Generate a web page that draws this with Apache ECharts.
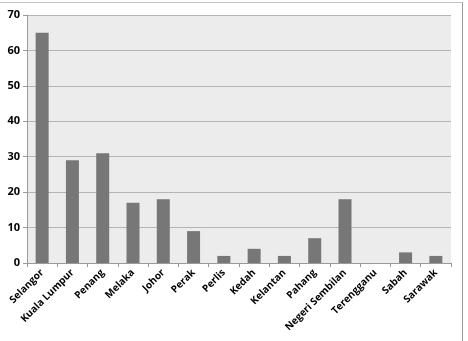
<!DOCTYPE html>
<html>
<head>
<meta charset="utf-8">
<script src="https://cdn.jsdelivr.net/npm/echarts@6/dist/echarts.min.js"></script>
<style>
  html, body { margin: 0; padding: 0; background: #fff; }
  #frame { position: absolute; left: 0; top: 2px; width: 462px; height: 345px;
           border-top: 1px solid #c4c4c4; border-right: 1px solid #9a9a9a; }
  #chart { position: absolute; left: 0; top: 0; width: 468px; height: 341px; }
</style>
</head>
<body>
<div id="frame"></div>
<div id="chart"></div>
<script>
const states = ['Selangor', 'Kuala Lumpur', 'Penang', 'Melaka', 'Johor', 'Perak', 'Perlis',
  'Kedah', 'Kelantan', 'Pahang', 'Negeri Sembilan', 'Terengganu', 'Sabah', 'Sarawak']
const counts = [65, 29, 31, 17, 18, 9, 2, 4, 2, 7, 18, 0, 3, 2]
const yTicks = [0, 10, 20, 30, 40, 50, 60, 70]

const myChart = echarts.init(document.getElementById('chart'))
const labelFont = '"Open Sans", "DejaVu Sans", sans-serif'

const option = {
  animation: false,
  grid: {
    left: 27,
    right: 17,
    top: 15,
    bottom: 78,
    show: true,
    backgroundColor: '#ececec',
    borderWidth: 0
  },
  xAxis: {
    type: 'category',
    data: states,
    axisLine: { lineStyle: { color: '#9a9a9a', width: 1 } },
    axisTick: { show: true, length: 4, lineStyle: { color: '#9a9a9a' } },
    axisLabel: {
      rotate: 45,
      interval: 0,
      margin: 8,
      color: '#000',
      fontFamily: labelFont,
      fontWeight: 'bold',
      fontSize: 10
    }
  },
  yAxis: {
    type: 'value',
    min: yTicks[0],
    max: yTicks[yTicks.length - 1],
    interval: 10,
    axisLine: { show: true, lineStyle: { color: '#9a9a9a' } },
    axisTick: { show: true, length: 4, lineStyle: { color: '#9a9a9a' } },
    splitLine: { lineStyle: { color: '#b4b4b4' } },
    axisLabel: {
      color: '#000',
      fontFamily: labelFont,
      fontWeight: 'bold',
      fontSize: 11,
      margin: 7
    }
  },
  series: [{
    type: 'bar',
    data: counts,
    barWidth: 13,
    itemStyle: { color: '#777777' }
  }]
}

myChart.setOption(option)
</script>
</body>
</html>
